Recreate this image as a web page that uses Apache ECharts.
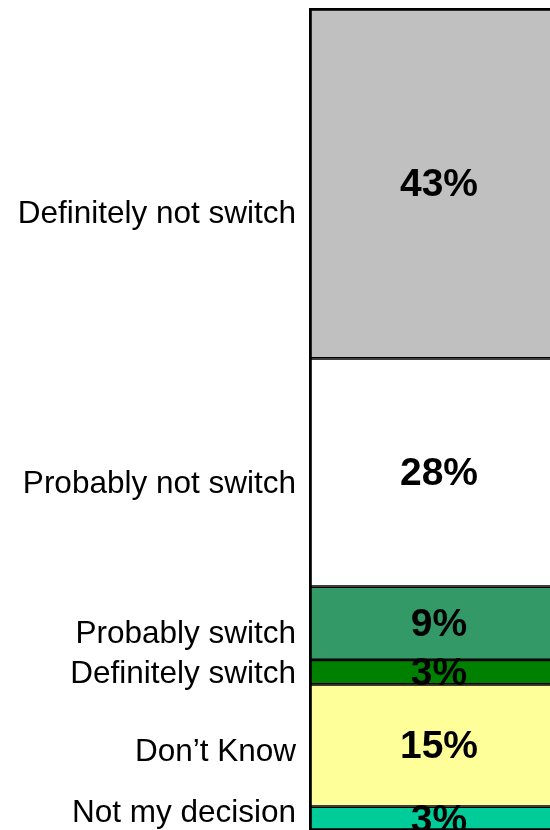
<!DOCTYPE html>
<html>
<head>
<meta charset="utf-8">
<style>
  html, body { margin: 0; padding: 0; background: #ffffff; }
  #chart { width: 550px; height: 830px; }
</style>
<script src="https://cdn.jsdelivr.net/npm/echarts@6/dist/echarts.min.js"></script>
</head>
<body>
<div id="chart"></div>
<script>
// Answers, stacked from the bottom of the bar upwards
const categories = ['Not my decision', 'Don\u2019t Know', 'Definitely switch', 'Probably switch', 'Probably not switch', 'Definitely not switch'];
const shares = [3, 15, 3, 9, 28, 43];

// Segment fills, same order as categories
const fills = ['#00CC99', '#FFFF99', '#008000', '#339966', '#FFFFFF', '#C0C0C0'];
// Vertical nudges for the answer labels on the left
const nameOffsets = [-5, 7, 2, 11, 12, 31];

const FONT = '"Liberation Sans", Arial, Helvetica, sans-serif';
const total = shares.reduce((a, b) => a + b, 0);

const chart = echarts.init(document.getElementById('chart'), null, { renderer: 'canvas' });

// Coloured segments; each draws a thin inner border so shared edges read as one line
const barSeries = categories.map((name, i) => ({
  name: name,
  type: 'bar',
  stack: 'answers',
  barWidth: '100%',
  barGap: '-100%',
  data: [shares[i]],
  itemStyle: { color: fills[i], borderColor: '#000000', borderWidth: 1.4 },
  label: {
    show: true,
    position: 'inside',
    offset: [0, 2],
    formatter: '{c}%',
    color: '#000000',
    fontFamily: FONT,
    fontWeight: 'bold',
    fontSize: 39
  },
  z: 2
}));

// Transparent copies that carry the answer text to the left of the bar
const nameSeries = categories.map((name, i) => ({
  name: name + ' label',
  type: 'bar',
  stack: 'names',
  barWidth: '100%',
  barGap: '-100%',
  data: [shares[i]],
  itemStyle: { color: 'rgba(0,0,0,0)', borderWidth: 0 },
  label: {
    show: true,
    position: 'left',
    distance: 13,
    offset: [0, nameOffsets[i]],
    formatter: name,
    color: '#000000',
    fontFamily: FONT,
    fontSize: 31.5
  },
  silent: true,
  z: 3
}));

// Heavier outline round the whole bar
const outlineSeries = {
  name: 'outline',
  type: 'bar',
  stack: 'outline',
  barWidth: '100%',
  barGap: '-100%',
  data: [total],
  itemStyle: { color: 'rgba(0,0,0,0)', borderColor: '#000000', borderWidth: 2.8 },
  label: { show: false },
  silent: true,
  z: 4
};

chart.setOption({
  animation: false,
  backgroundColor: '#ffffff',
  grid: { left: 309, top: 8, width: 260, height: 823, containLabel: false, outerBoundsMode: 'none' },
  xAxis: {
    type: 'category',
    data: [''],
    show: false
  },
  yAxis: {
    type: 'value',
    min: 0,
    max: total,
    show: false
  },
  series: barSeries.concat(nameSeries, [outlineSeries])
});
</script>
</body>
</html>
